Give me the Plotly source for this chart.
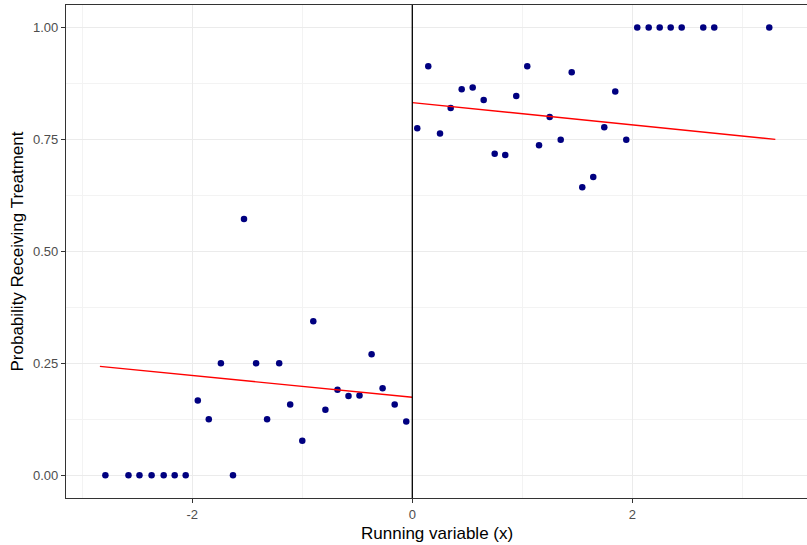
import plotly.graph_objects as go

# Binned means (left of cutoff)
x_left = [-2.79, -2.58, -2.48, -2.37, -2.26, -2.16, -2.06, -1.95, -1.85, -1.74,
          -1.63, -1.53, -1.42, -1.32, -1.21, -1.11, -1.00, -0.90, -0.79, -0.68,
          -0.58, -0.48, -0.37, -0.27, -0.16, -0.055]
y_left = [0, 0, 0, 0, 0, 0, 0, 0.167, 0.125, 0.25,
          0, 0.572, 0.25, 0.125, 0.25, 0.158, 0.077, 0.344, 0.146, 0.191,
          0.177, 0.178, 0.270, 0.194, 0.158, 0.12]

# Binned means (right of cutoff)
x_right = [0.045, 0.145, 0.252, 0.349, 0.449, 0.549, 0.649, 0.749, 0.845, 0.945,
           1.045, 1.152, 1.249, 1.349, 1.449, 1.545, 1.645, 1.745, 1.845, 1.945,
           2.045, 2.149, 2.249, 2.349, 2.449, 2.645, 2.745, 3.245]
y_right = [0.775, 0.913, 0.763, 0.820, 0.862, 0.866, 0.838, 0.718, 0.715, 0.847,
           0.913, 0.737, 0.800, 0.749, 0.900, 0.643, 0.666, 0.777, 0.857, 0.749,
           1, 1, 1, 1, 1, 1, 1, 1]

# Linear fit lines (endpoints)
fit_left_x = [-2.84, 0.0]
fit_left_y = [0.243, 0.174]
fit_right_x = [0.0, 3.30]
fit_right_y = [0.832, 0.750]

x_ticks = [-2, 0, 2]
y_ticks = [0.0, 0.25, 0.5, 0.75, 1.0]
y_tick_labels = ["0.00", "0.25", "0.50", "0.75", "1.00"]

x_title = "Running variable (x)"
y_title = "Probability Receiving Treatment"

FONT = "Arial, Liberation Sans, sans-serif"

fig = go.Figure()
fig.add_trace(go.Scatter(x=x_left + x_right, y=y_left + y_right, mode="markers",
                         marker=dict(color="#000080", size=6.5), showlegend=False))
fig.add_trace(go.Scatter(x=fit_left_x, y=fit_left_y, mode="lines",
                         line=dict(color="#FF0000", width=1.4), showlegend=False))
fig.add_trace(go.Scatter(x=fit_right_x, y=fit_right_y, mode="lines",
                         line=dict(color="#FF0000", width=1.4), showlegend=False))

fig.add_vline(x=0, line=dict(color="black", width=1.3))

fig.add_annotation(text=x_title, xref="paper", yref="paper", x=0.5, y=0,
                   xanchor="center", yanchor="middle", yshift=-35, showarrow=False,
                   font=dict(size=17, color="black", family=FONT))
fig.add_annotation(text=y_title, xref="paper", yref="paper", x=0, y=0.5,
                   xanchor="center", yanchor="middle", xshift=-49, textangle=-90,
                   showarrow=False, font=dict(size=17, color="black", family=FONT))

fig.update_layout(
    width=807, height=545,
    margin=dict(l=66, r=0, t=5, b=47),
    paper_bgcolor="white", plot_bgcolor="white",
    font=dict(family=FONT),
    xaxis=dict(
        range=[-3.148, 3.588], tickvals=x_ticks, ticktext=[str(v) for v in x_ticks],
        automargin=False,
        showgrid=True, gridcolor="#EBEBEB", gridwidth=1.1,
        minor=dict(dtick=1, tick0=1, showgrid=True, gridcolor="#F3F3F3", gridwidth=0.6),
        zeroline=False, showline=True, linecolor="#333333", linewidth=1.3, mirror=True,
        ticks="outside", ticklen=4, tickcolor="#333333", tickwidth=1,
        tickfont=dict(size=13, color="#4D4D4D", family=FONT),
    ),
    yaxis=dict(
        range=[-0.051, 1.050], tickvals=y_ticks, ticktext=y_tick_labels,
        automargin=False,
        showgrid=True, gridcolor="#EBEBEB", gridwidth=1.1,
        minor=dict(dtick=0.25, tick0=0.125, showgrid=True, gridcolor="#F3F3F3", gridwidth=0.6),
        zeroline=False, showline=True, linecolor="#333333", linewidth=1.3,
        ticks="outside", ticklen=4, tickcolor="#333333", tickwidth=1,
        tickfont=dict(size=13, color="#4D4D4D", family=FONT),
    ),
)

fig.write_html("out.html", config={"displayModeBar": False},
               post_script="document.body.style.margin='0px';document.body.style.overflow='hidden';")
